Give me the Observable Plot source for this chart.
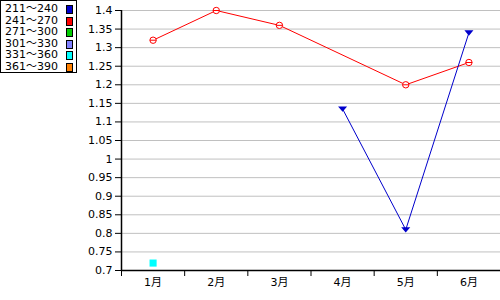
<!DOCTYPE html>
<html><head><meta charset="utf-8">
<script src="https://cdn.jsdelivr.net/npm/d3@7"></script>
<script src="https://cdn.jsdelivr.net/npm/@observablehq/plot@0.6"></script>
<style>
body{margin:0;background:#fff;}
#wrap{position:relative;width:500px;height:300px;}
#legend{position:absolute;left:0;top:0;width:77px;height:73px;border:1px solid #000;background:#fff;font-family:"DejaVu Sans","Noto Sans CJK JP",sans-serif;font-size:11px;line-height:11.5px;padding-top:2px;box-sizing:border-box;}
.row{position:relative;height:11.5px;padding-left:4px;white-space:nowrap;}
.sw{position:absolute;left:65px;top:2px;width:5px;height:7px;border:1px solid #000;}
</style></head><body>
<div id="wrap"><div id="chart"></div><div id="legend"></div></div>
<script>
const months = ["1月","2月","3月","4月","5月","6月"];
const seriesNames = ["211～240","241～270","271～300","301～330","331～360","361～390"];
const seriesColors = ["#0000cc","#ff0000","#00cc00","#8080ff","#00ffff","#ff8000"];
const s211 = [null,null,null,1.135,0.81,1.34];
const s241 = [1.32,1.40,1.36,null,1.20,1.26];
const s331 = [0.72,null,null,null,null,null];
const yTicks = [0.7,0.75,0.8,0.85,0.9,0.95,1,1.05,1.1,1.15,1.2,1.25,1.3,1.35,1.4];

const toRows = arr => arr.map((v,i)=>({x:i+1,y:v})).filter(d=>d.y!=null);
const r211 = toRows(s211), r241 = toRows(s241), r331 = toRows(s331);
const centers = months.map((m,i)=>i+1);
const bounds = months.map((m,i)=>i+0.5).concat([months.length+0.5]);

const circleBar = {draw(ctx,size){const r=Math.sqrt(size/Math.PI);ctx.moveTo(r,0);ctx.arc(0,0,r,0,2*Math.PI);ctx.moveTo(-r,0);ctx.lineTo(r,0);}};
const triDown = {draw(ctx,size){const w=Math.sqrt(size)*1.1;ctx.moveTo(-w/2,-w*0.3);ctx.lineTo(w/2,-w*0.3);ctx.lineTo(0,w*0.3);ctx.closePath();}};

const font = '"DejaVu Sans","Noto Sans CJK JP",sans-serif';
const chart = Plot.plot({
  width:500,height:300,
  marginLeft:121,marginRight:0,marginTop:10,marginBottom:30,
  style:{fontFamily:font,fontSize:"11px",color:"#000",background:"#fff"},
  x:{domain:[0.5,months.length+0.5]},
  y:{domain:[0.7,1.4]},
  marks:[
    Plot.gridY(yTicks,{stroke:"#c0c0c0",strokeOpacity:1}),
    Plot.line(r241,{x:"x",y:"y",stroke:seriesColors[1],strokeWidth:1}),
    Plot.line(r211,{x:"x",y:"y",stroke:seriesColors[0],strokeWidth:1}),
    Plot.dot(r241,{x:"x",y:"y",symbol:circleBar,r:3.2,stroke:seriesColors[1],fill:"#fff",strokeWidth:1}),
    Plot.dot(r211,{x:"x",y:"y",symbol:triDown,r:3,fill:seriesColors[0],stroke:seriesColors[0]}),
    Plot.dot(r331,{x:"x",y:"y",symbol:"square",r:4,fill:seriesColors[4]}),
    Plot.axisY({ticks:yTicks,tickFormat:d=>String(+d.toFixed(2)),tickSize:6,tickPadding:3,label:null}),
    Plot.ruleX([0.5],{stroke:"#000",strokeWidth:1.5}),
    Plot.ruleY([0.7],{stroke:"#000",strokeWidth:1.5}),
    Plot.axisX({ticks:bounds,tickFormat:()=>"",tickSize:6,label:null}),
    Plot.axisX({ticks:centers,tickFormat:d=>months[d-1],tickSize:0,tickPadding:8,label:null})
  ]
});
document.getElementById("chart").appendChild(chart);
const lg = document.getElementById("legend");
seriesNames.forEach((n,i)=>{
  const row=document.createElement("div");row.className="row";row.textContent=n;
  const sw=document.createElement("span");sw.className="sw";sw.style.background=seriesColors[i];
  row.appendChild(sw);lg.appendChild(row);
});
</script></body></html>
